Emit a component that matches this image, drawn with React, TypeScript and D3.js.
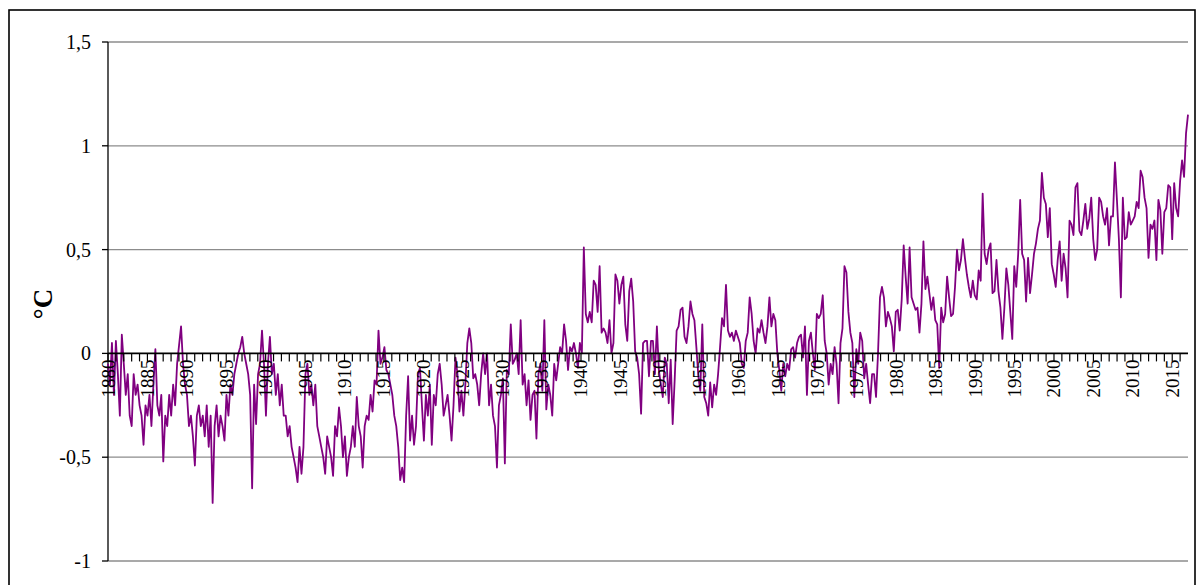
import React from 'react';
import * as d3 from 'd3';

// ── Data: quarterly temperature anomaly (°C) ─────────────────────────────────
const START_YEAR = 1880;
const END_YEAR = 2017;
const STEPS_PER_YEAR = 4;

const anomaly1880s = [
  -0.05, -0.15, 0.05, -0.2, 0.06, -0.1, -0.3, 0.09, -0.05, -0.2, -0.1, -0.3,
  -0.35, -0.1, -0.2, -0.15, -0.25, -0.3, -0.44, -0.25, -0.3, -0.2, -0.35, -0.15,
  0.02, -0.25, -0.3, -0.2, -0.52, -0.3, -0.35, -0.2, -0.3, -0.15, -0.25, -0.05,
  0.04, 0.13, -0.05, -0.15,
];
const anomaly1890s = [
  -0.2, -0.35, -0.3, -0.4, -0.54, -0.3, -0.25, -0.35, -0.3, -0.4, -0.25, -0.45,
  -0.3, -0.72, -0.35, -0.25, -0.4, -0.3, -0.35, -0.42, -0.2, -0.3, -0.15, -0.2,
  -0.1, -0.05, 0.0, 0.03, 0.08, 0.0, -0.05, -0.1, -0.2, -0.65, -0.15, -0.34,
  -0.1, -0.05, 0.11, -0.05,
];
const anomaly1900s = [
  -0.3, -0.05, 0.08, -0.1, -0.05, -0.2, -0.1, -0.25, -0.15, -0.3, -0.3, -0.4,
  -0.35, -0.45, -0.5, -0.55, -0.62, -0.45, -0.58, -0.45, -0.1, -0.05, -0.2, -0.15,
  -0.25, -0.15, -0.35, -0.4, -0.45, -0.5, -0.58, -0.4, -0.45, -0.5, -0.59, -0.35,
  -0.4, -0.26, -0.35, -0.5,
];
const anomaly1910s = [
  -0.4, -0.59, -0.5, -0.45, -0.35, -0.45, -0.21, -0.35, -0.4, -0.55, -0.35, -0.3,
  -0.32, -0.2, -0.28, -0.13, -0.15, 0.11, -0.05, -0.02, 0.03, -0.08, -0.1, -0.15,
  -0.2, -0.3, -0.35, -0.45, -0.61, -0.55, -0.62, -0.3, -0.11, -0.42, -0.3, -0.44,
  -0.35, -0.1, -0.07, -0.25,
];
const anomaly1920s = [
  -0.42, -0.2, -0.3, -0.15, -0.44, -0.2, -0.25, -0.1, -0.05, -0.15, -0.3, -0.25,
  -0.2, -0.3, -0.42, -0.25, -0.02, -0.1, -0.28, -0.18, -0.3, -0.15, 0.05, 0.12,
  0.05, -0.12, -0.1, -0.15, -0.25, -0.1, 0.0, -0.1, 0.0, -0.25, -0.15, -0.3,
  -0.35, -0.55, -0.25, -0.2,
];
const anomaly1930s = [
  -0.12, -0.53, -0.08, -0.1, 0.14, -0.05, -0.03, 0.0, -0.1, 0.16, -0.15, -0.1,
  -0.25, -0.13, -0.32, -0.2, -0.18, -0.41, -0.1, -0.05, -0.18, 0.16, -0.27, -0.15,
  -0.2, -0.3, -0.05, -0.13, -0.05, 0.03, 0.0, 0.14, 0.06, -0.08, 0.03, 0.01,
  0.05, 0.0, -0.07, 0.05,
];
const anomaly1940s = [
  0.0, 0.51, 0.19, 0.15, 0.2, 0.15, 0.35, 0.33, 0.2, 0.42, 0.1, 0.12,
  0.1, 0.05, 0.16, 0.0, 0.05, 0.38, 0.35, 0.24, 0.33, 0.37, 0.14, 0.06,
  0.3, 0.36, 0.25, 0.01, -0.02, -0.1, -0.29, 0.05, 0.06, 0.06, -0.11, 0.06,
  0.06, -0.1, 0.13, -0.08,
];
const anomaly1950s = [
  -0.15, -0.21, -0.02, -0.05, -0.24, -0.03, -0.34, -0.13, 0.11, 0.13, 0.21, 0.22,
  0.08, 0.05, 0.13, 0.25, 0.19, 0.16, 0.03, -0.11, -0.18, 0.14, -0.21, -0.24,
  -0.3, -0.14, -0.26, -0.15, -0.2, -0.1, 0.03, 0.17, 0.13, 0.33, 0.11, 0.08,
  0.1, 0.06, 0.11, 0.08,
];
const anomaly1960s = [
  0.05, -0.05, -0.07, 0.06, 0.1, 0.27, 0.19, 0.06, 0.0, 0.12, 0.1, 0.16,
  0.1, 0.05, 0.13, 0.27, 0.13, 0.19, 0.16, 0.0, -0.08, -0.18, -0.05, -0.11,
  -0.05, -0.08, 0.02, 0.03, -0.02, 0.05, 0.08, 0.09, -0.02, 0.13, -0.2, 0.06,
  0.1, 0.0, -0.08, 0.19,
];
const anomaly1970s = [
  0.17, 0.19, 0.28, 0.06, 0.0, -0.15, -0.05, -0.1, 0.03, -0.05, -0.24, 0.05,
  0.12, 0.42, 0.39, 0.2, 0.1, 0.05, -0.21, 0.02, -0.05, 0.1, 0.06, -0.12,
  -0.05, -0.15, -0.24, -0.1, -0.1, -0.21, 0.0, 0.27, 0.32, 0.27, 0.13, 0.2,
  0.17, 0.13, 0.01, 0.2,
];
const anomaly1980s = [
  0.21, 0.11, 0.26, 0.52, 0.37, 0.24, 0.51, 0.27, 0.24, 0.21, 0.22, 0.1,
  0.24, 0.54, 0.31, 0.37, 0.29, 0.21, 0.27, 0.16, 0.14, -0.07, 0.22, 0.15,
  0.19, 0.37, 0.27, 0.18, 0.19, 0.32, 0.5, 0.4, 0.45, 0.55, 0.46, 0.38,
  0.32, 0.27, 0.35, 0.28,
];
const anomaly1990s = [
  0.26, 0.4, 0.35, 0.77, 0.48, 0.43, 0.5, 0.53, 0.29, 0.3, 0.45, 0.3,
  0.22, 0.07, 0.22, 0.41, 0.33, 0.2, 0.07, 0.42, 0.32, 0.48, 0.74, 0.48,
  0.45, 0.25, 0.46, 0.29, 0.38, 0.48, 0.53, 0.6, 0.64, 0.87, 0.75, 0.72,
  0.56, 0.7, 0.43, 0.38,
];
const anomaly2000s = [
  0.32, 0.45, 0.54, 0.35, 0.48, 0.41, 0.27, 0.64, 0.62, 0.57, 0.8, 0.82,
  0.59, 0.57, 0.64, 0.72, 0.6, 0.65, 0.75, 0.55, 0.45, 0.5, 0.75, 0.73,
  0.66, 0.62, 0.7, 0.52, 0.66, 0.66, 0.92, 0.74, 0.55, 0.27, 0.75, 0.55,
  0.56, 0.68, 0.62, 0.64,
];
const anomaly2010s = [
  0.66, 0.73, 0.7, 0.88, 0.85, 0.75, 0.7, 0.46, 0.62, 0.6, 0.64, 0.45,
  0.74, 0.69, 0.48, 0.68, 0.7, 0.81, 0.8, 0.55, 0.82, 0.7, 0.66, 0.83,
  0.93, 0.85, 1.06, 1.15,
];

const anomalies = [
  ...anomaly1880s, ...anomaly1890s, ...anomaly1900s, ...anomaly1910s,
  ...anomaly1920s, ...anomaly1930s, ...anomaly1940s, ...anomaly1950s,
  ...anomaly1960s, ...anomaly1970s, ...anomaly1980s, ...anomaly1990s,
  ...anomaly2000s, ...anomaly2010s,
];

const yTicks = [-1, -0.5, 0, 0.5, 1, 1.5];
const yTickLabels = ['-1', '-0,5', '0', '0,5', '1', '1,5'];
const yearLabels = [
  1880, 1885, 1890, 1895, 1900, 1905, 1910, 1915, 1920, 1925, 1930, 1935, 1940,
  1945, 1950, 1955, 1960, 1965, 1970, 1975, 1980, 1985, 1990, 1995, 2000, 2005,
  2010, 2015,
];

// ── Layout ────────────────────────────────────────────────────────────────────
const W = 1200;
const H = 585;
const PLOT = { left: 108, right: 1188, top: 42, bottom: 561 };
const FONT = '"Liberation Serif", "Times New Roman", serif';
const LINE_COLOR = '#800080';

export default function App() {
  const x = d3.scaleLinear().domain([START_YEAR, END_YEAR]).range([PLOT.left, PLOT.right]);
  const y = d3.scaleLinear().domain([-1, 1.5]).range([PLOT.bottom, PLOT.top]);

  const span = (anomalies.length - 1) / STEPS_PER_YEAR;
  const line = d3
    .line<number>()
    .x((_, i) => x(START_YEAR + (i / STEPS_PER_YEAR) * ((END_YEAR - START_YEAR) / span)))
    .y((d) => y(d));

  const y0 = y(0);
  const yearTicks = d3.range(START_YEAR, END_YEAR);

  return (
    <div style={{ position: 'absolute', left: 0, top: 0 }}>
      <svg width={W} height={H} style={{ display: 'block', background: '#fff' }}>
        {/* outer frame */}
        <rect x={9} y={10} width={1186} height={620} fill="none" stroke="#000" strokeWidth={1.6} />

        {/* horizontal grid lines */}
        {yTicks.filter((t) => t !== 0).map((t) => (
          <line key={t} x1={PLOT.left} x2={PLOT.right} y1={y(t)} y2={y(t)} stroke="#8c8c8c" strokeWidth={1.3} />
        ))}

        {/* y axis */}
        <line x1={PLOT.left} x2={PLOT.left} y1={PLOT.top} y2={PLOT.bottom} stroke="#000" strokeWidth={1.3} />
        {yTicks.map((t, i) => (
          <g key={t}>
            <line x1={PLOT.left - 6} x2={PLOT.left} y1={y(t)} y2={y(t)} stroke="#000" strokeWidth={1.3} />
            <text
              x={91}
              y={y(t)}
              textAnchor="end"
              dominantBaseline="central"
              fontFamily={FONT}
              fontSize={20}
              fill="#000"
            >
              {yTickLabels[i]}
            </text>
          </g>
        ))}

        {/* y axis title */}
        <text
          transform={`translate(43,${304}) rotate(-90)`}
          textAnchor="middle"
          dominantBaseline="central"
          fontFamily={FONT}
          fontSize={27}
          fontWeight="bold"
          fill="#000"
        >
          °C
        </text>

        {/* data line */}
        <path d={line(anomalies) ?? ''} fill="none" stroke={LINE_COLOR} strokeWidth={1.8} strokeLinejoin="round" />

        {/* zero axis with yearly tick marks */}
        <line x1={PLOT.left} x2={PLOT.right} y1={y0} y2={y0} stroke="#000" strokeWidth={1.6} />
        {yearTicks.map((yr) => (
          <line key={yr} x1={x(yr)} x2={x(yr)} y1={y0} y2={y0 + 8} stroke="#000" strokeWidth={1.2} />
        ))}
        {yearLabels.map((yr) => (
          <text
            key={yr}
            transform={`translate(${x(yr)},${y0 + 6}) rotate(-90)`}
            textAnchor="end"
            dominantBaseline="central"
            fontFamily={FONT}
            fontSize={19}
            fill="#000"
          >
            {yr}
          </text>
        ))}
      </svg>
    </div>
  );
}
